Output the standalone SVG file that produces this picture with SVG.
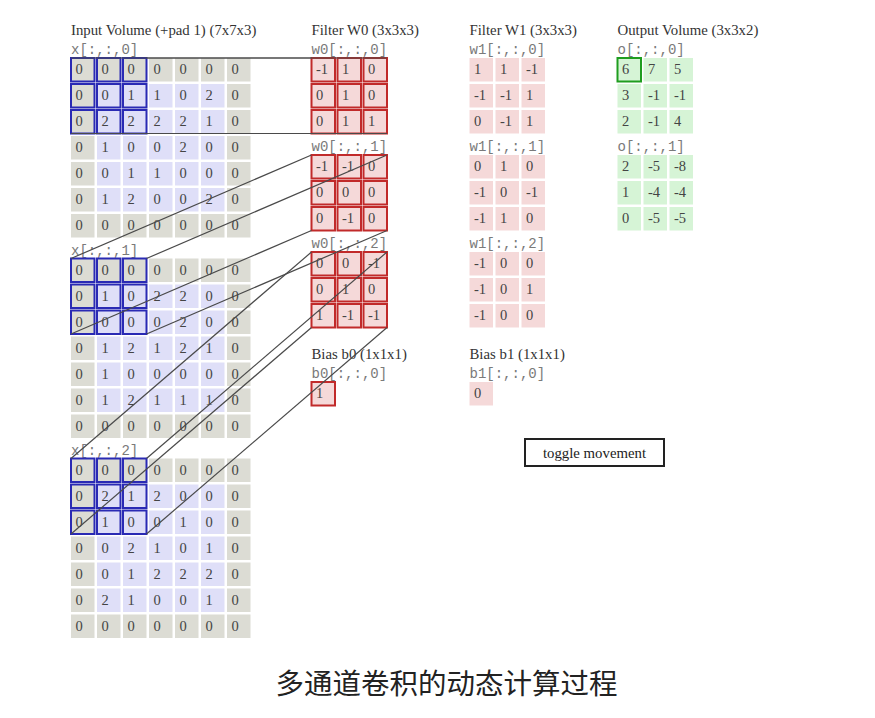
<svg xmlns="http://www.w3.org/2000/svg" width="875" height="718" viewBox="0 0 875 718">
<style>
.bg{fill:#ffffff}
.p{fill:#dcdcd4}
.v{fill:#dfdff8}
.f{fill:#f5d9d9}
.o{fill:#d6f4d6}
.t{font-family:"Liberation Serif",serif;font-size:14.5px;fill:#444}
.h{font-family:"Liberation Serif",serif;font-size:14.8px;fill:#333}
.m{font-family:"Liberation Mono",monospace;font-size:14px;fill:#7a7a7a}
.wb{fill:none;stroke:#2a2ab4;stroke-width:2}
.rb{fill:none;stroke:#c12a2a;stroke-width:2}
.gb{fill:none;stroke:#1f9d1f;stroke-width:2}
.ln{stroke:#4a4a4a;stroke-width:1.2;fill:none}
.cap{font-family:"Noto Sans CJK SC","Noto Sans",sans-serif;font-size:28.5px;fill:#222}
</style>
<rect class="bg" x="0" y="0" width="875" height="718"/>

<g id="input-volume">
<text class="h" x="71" y="35">Input Volume (+pad 1) (7x7x3)</text>
<g id="x0" transform="translate(71,58)">
<text class="m" x="0" y="-4">x[:,:,0]</text>
<rect class="p" x="0" y="0" width="23.5" height="23.5"/><rect class="p" x="26" y="0" width="23.5" height="23.5"/><rect class="p" x="52" y="0" width="23.5" height="23.5"/><rect class="p" x="78" y="0" width="23.5" height="23.5"/><rect class="p" x="104" y="0" width="23.5" height="23.5"/><rect class="p" x="130" y="0" width="23.5" height="23.5"/><rect class="p" x="156" y="0" width="23.5" height="23.5"/>
<rect class="p" x="0" y="26" width="23.5" height="23.5"/><rect class="v" x="26" y="26" width="23.5" height="23.5"/><rect class="v" x="52" y="26" width="23.5" height="23.5"/><rect class="v" x="78" y="26" width="23.5" height="23.5"/><rect class="v" x="104" y="26" width="23.5" height="23.5"/><rect class="v" x="130" y="26" width="23.5" height="23.5"/><rect class="p" x="156" y="26" width="23.5" height="23.5"/>
<rect class="p" x="0" y="52" width="23.5" height="23.5"/><rect class="v" x="26" y="52" width="23.5" height="23.5"/><rect class="v" x="52" y="52" width="23.5" height="23.5"/><rect class="v" x="78" y="52" width="23.5" height="23.5"/><rect class="v" x="104" y="52" width="23.5" height="23.5"/><rect class="v" x="130" y="52" width="23.5" height="23.5"/><rect class="p" x="156" y="52" width="23.5" height="23.5"/>
<rect class="p" x="0" y="78" width="23.5" height="23.5"/><rect class="v" x="26" y="78" width="23.5" height="23.5"/><rect class="v" x="52" y="78" width="23.5" height="23.5"/><rect class="v" x="78" y="78" width="23.5" height="23.5"/><rect class="v" x="104" y="78" width="23.5" height="23.5"/><rect class="v" x="130" y="78" width="23.5" height="23.5"/><rect class="p" x="156" y="78" width="23.5" height="23.5"/>
<rect class="p" x="0" y="104" width="23.5" height="23.5"/><rect class="v" x="26" y="104" width="23.5" height="23.5"/><rect class="v" x="52" y="104" width="23.5" height="23.5"/><rect class="v" x="78" y="104" width="23.5" height="23.5"/><rect class="v" x="104" y="104" width="23.5" height="23.5"/><rect class="v" x="130" y="104" width="23.5" height="23.5"/><rect class="p" x="156" y="104" width="23.5" height="23.5"/>
<rect class="p" x="0" y="130" width="23.5" height="23.5"/><rect class="v" x="26" y="130" width="23.5" height="23.5"/><rect class="v" x="52" y="130" width="23.5" height="23.5"/><rect class="v" x="78" y="130" width="23.5" height="23.5"/><rect class="v" x="104" y="130" width="23.5" height="23.5"/><rect class="v" x="130" y="130" width="23.5" height="23.5"/><rect class="p" x="156" y="130" width="23.5" height="23.5"/>
<rect class="p" x="0" y="156" width="23.5" height="23.5"/><rect class="p" x="26" y="156" width="23.5" height="23.5"/><rect class="p" x="52" y="156" width="23.5" height="23.5"/><rect class="p" x="78" y="156" width="23.5" height="23.5"/><rect class="p" x="104" y="156" width="23.5" height="23.5"/><rect class="p" x="130" y="156" width="23.5" height="23.5"/><rect class="p" x="156" y="156" width="23.5" height="23.5"/>
<text class="t" x="4.5" y="16">0</text><text class="t" x="30.5" y="16">0</text><text class="t" x="56.5" y="16">0</text><text class="t" x="82.5" y="16">0</text><text class="t" x="108.5" y="16">0</text><text class="t" x="134.5" y="16">0</text><text class="t" x="160.5" y="16">0</text>
<text class="t" x="4.5" y="42">0</text><text class="t" x="30.5" y="42">0</text><text class="t" x="56.5" y="42">1</text><text class="t" x="82.5" y="42">1</text><text class="t" x="108.5" y="42">0</text><text class="t" x="134.5" y="42">2</text><text class="t" x="160.5" y="42">0</text>
<text class="t" x="4.5" y="68">0</text><text class="t" x="30.5" y="68">2</text><text class="t" x="56.5" y="68">2</text><text class="t" x="82.5" y="68">2</text><text class="t" x="108.5" y="68">2</text><text class="t" x="134.5" y="68">1</text><text class="t" x="160.5" y="68">0</text>
<text class="t" x="4.5" y="94">0</text><text class="t" x="30.5" y="94">1</text><text class="t" x="56.5" y="94">0</text><text class="t" x="82.5" y="94">0</text><text class="t" x="108.5" y="94">2</text><text class="t" x="134.5" y="94">0</text><text class="t" x="160.5" y="94">0</text>
<text class="t" x="4.5" y="120">0</text><text class="t" x="30.5" y="120">0</text><text class="t" x="56.5" y="120">1</text><text class="t" x="82.5" y="120">1</text><text class="t" x="108.5" y="120">0</text><text class="t" x="134.5" y="120">0</text><text class="t" x="160.5" y="120">0</text>
<text class="t" x="4.5" y="146">0</text><text class="t" x="30.5" y="146">1</text><text class="t" x="56.5" y="146">2</text><text class="t" x="82.5" y="146">0</text><text class="t" x="108.5" y="146">0</text><text class="t" x="134.5" y="146">2</text><text class="t" x="160.5" y="146">0</text>
<text class="t" x="4.5" y="172">0</text><text class="t" x="30.5" y="172">0</text><text class="t" x="56.5" y="172">0</text><text class="t" x="82.5" y="172">0</text><text class="t" x="108.5" y="172">0</text><text class="t" x="134.5" y="172">0</text><text class="t" x="160.5" y="172">0</text>
<rect class="wb" x="0" y="0" width="23.5" height="23.5"/><rect class="wb" x="26" y="0" width="23.5" height="23.5"/><rect class="wb" x="52" y="0" width="23.5" height="23.5"/>
<rect class="wb" x="0" y="26" width="23.5" height="23.5"/><rect class="wb" x="26" y="26" width="23.5" height="23.5"/><rect class="wb" x="52" y="26" width="23.5" height="23.5"/>
<rect class="wb" x="0" y="52" width="23.5" height="23.5"/><rect class="wb" x="26" y="52" width="23.5" height="23.5"/><rect class="wb" x="52" y="52" width="23.5" height="23.5"/>
</g>
<g id="x1" transform="translate(71,258.5)">
<text class="m" x="0" y="-4">x[:,:,1]</text>
<rect class="p" x="0" y="0" width="23.5" height="23.5"/><rect class="p" x="26" y="0" width="23.5" height="23.5"/><rect class="p" x="52" y="0" width="23.5" height="23.5"/><rect class="p" x="78" y="0" width="23.5" height="23.5"/><rect class="p" x="104" y="0" width="23.5" height="23.5"/><rect class="p" x="130" y="0" width="23.5" height="23.5"/><rect class="p" x="156" y="0" width="23.5" height="23.5"/>
<rect class="p" x="0" y="26" width="23.5" height="23.5"/><rect class="v" x="26" y="26" width="23.5" height="23.5"/><rect class="v" x="52" y="26" width="23.5" height="23.5"/><rect class="v" x="78" y="26" width="23.5" height="23.5"/><rect class="v" x="104" y="26" width="23.5" height="23.5"/><rect class="v" x="130" y="26" width="23.5" height="23.5"/><rect class="p" x="156" y="26" width="23.5" height="23.5"/>
<rect class="p" x="0" y="52" width="23.5" height="23.5"/><rect class="v" x="26" y="52" width="23.5" height="23.5"/><rect class="v" x="52" y="52" width="23.5" height="23.5"/><rect class="v" x="78" y="52" width="23.5" height="23.5"/><rect class="v" x="104" y="52" width="23.5" height="23.5"/><rect class="v" x="130" y="52" width="23.5" height="23.5"/><rect class="p" x="156" y="52" width="23.5" height="23.5"/>
<rect class="p" x="0" y="78" width="23.5" height="23.5"/><rect class="v" x="26" y="78" width="23.5" height="23.5"/><rect class="v" x="52" y="78" width="23.5" height="23.5"/><rect class="v" x="78" y="78" width="23.5" height="23.5"/><rect class="v" x="104" y="78" width="23.5" height="23.5"/><rect class="v" x="130" y="78" width="23.5" height="23.5"/><rect class="p" x="156" y="78" width="23.5" height="23.5"/>
<rect class="p" x="0" y="104" width="23.5" height="23.5"/><rect class="v" x="26" y="104" width="23.5" height="23.5"/><rect class="v" x="52" y="104" width="23.5" height="23.5"/><rect class="v" x="78" y="104" width="23.5" height="23.5"/><rect class="v" x="104" y="104" width="23.5" height="23.5"/><rect class="v" x="130" y="104" width="23.5" height="23.5"/><rect class="p" x="156" y="104" width="23.5" height="23.5"/>
<rect class="p" x="0" y="130" width="23.5" height="23.5"/><rect class="v" x="26" y="130" width="23.5" height="23.5"/><rect class="v" x="52" y="130" width="23.5" height="23.5"/><rect class="v" x="78" y="130" width="23.5" height="23.5"/><rect class="v" x="104" y="130" width="23.5" height="23.5"/><rect class="v" x="130" y="130" width="23.5" height="23.5"/><rect class="p" x="156" y="130" width="23.5" height="23.5"/>
<rect class="p" x="0" y="156" width="23.5" height="23.5"/><rect class="p" x="26" y="156" width="23.5" height="23.5"/><rect class="p" x="52" y="156" width="23.5" height="23.5"/><rect class="p" x="78" y="156" width="23.5" height="23.5"/><rect class="p" x="104" y="156" width="23.5" height="23.5"/><rect class="p" x="130" y="156" width="23.5" height="23.5"/><rect class="p" x="156" y="156" width="23.5" height="23.5"/>
<text class="t" x="4.5" y="16">0</text><text class="t" x="30.5" y="16">0</text><text class="t" x="56.5" y="16">0</text><text class="t" x="82.5" y="16">0</text><text class="t" x="108.5" y="16">0</text><text class="t" x="134.5" y="16">0</text><text class="t" x="160.5" y="16">0</text>
<text class="t" x="4.5" y="42">0</text><text class="t" x="30.5" y="42">1</text><text class="t" x="56.5" y="42">0</text><text class="t" x="82.5" y="42">2</text><text class="t" x="108.5" y="42">2</text><text class="t" x="134.5" y="42">0</text><text class="t" x="160.5" y="42">0</text>
<text class="t" x="4.5" y="68">0</text><text class="t" x="30.5" y="68">0</text><text class="t" x="56.5" y="68">0</text><text class="t" x="82.5" y="68">0</text><text class="t" x="108.5" y="68">2</text><text class="t" x="134.5" y="68">0</text><text class="t" x="160.5" y="68">0</text>
<text class="t" x="4.5" y="94">0</text><text class="t" x="30.5" y="94">1</text><text class="t" x="56.5" y="94">2</text><text class="t" x="82.5" y="94">1</text><text class="t" x="108.5" y="94">2</text><text class="t" x="134.5" y="94">1</text><text class="t" x="160.5" y="94">0</text>
<text class="t" x="4.5" y="120">0</text><text class="t" x="30.5" y="120">1</text><text class="t" x="56.5" y="120">0</text><text class="t" x="82.5" y="120">0</text><text class="t" x="108.5" y="120">0</text><text class="t" x="134.5" y="120">0</text><text class="t" x="160.5" y="120">0</text>
<text class="t" x="4.5" y="146">0</text><text class="t" x="30.5" y="146">1</text><text class="t" x="56.5" y="146">2</text><text class="t" x="82.5" y="146">1</text><text class="t" x="108.5" y="146">1</text><text class="t" x="134.5" y="146">1</text><text class="t" x="160.5" y="146">0</text>
<text class="t" x="4.5" y="172">0</text><text class="t" x="30.5" y="172">0</text><text class="t" x="56.5" y="172">0</text><text class="t" x="82.5" y="172">0</text><text class="t" x="108.5" y="172">0</text><text class="t" x="134.5" y="172">0</text><text class="t" x="160.5" y="172">0</text>
<rect class="wb" x="0" y="0" width="23.5" height="23.5"/><rect class="wb" x="26" y="0" width="23.5" height="23.5"/><rect class="wb" x="52" y="0" width="23.5" height="23.5"/>
<rect class="wb" x="0" y="26" width="23.5" height="23.5"/><rect class="wb" x="26" y="26" width="23.5" height="23.5"/><rect class="wb" x="52" y="26" width="23.5" height="23.5"/>
<rect class="wb" x="0" y="52" width="23.5" height="23.5"/><rect class="wb" x="26" y="52" width="23.5" height="23.5"/><rect class="wb" x="52" y="52" width="23.5" height="23.5"/>
</g>
<g id="x2" transform="translate(71,458.5)">
<text class="m" x="0" y="-4">x[:,:,2]</text>
<rect class="p" x="0" y="0" width="23.5" height="23.5"/><rect class="p" x="26" y="0" width="23.5" height="23.5"/><rect class="p" x="52" y="0" width="23.5" height="23.5"/><rect class="p" x="78" y="0" width="23.5" height="23.5"/><rect class="p" x="104" y="0" width="23.5" height="23.5"/><rect class="p" x="130" y="0" width="23.5" height="23.5"/><rect class="p" x="156" y="0" width="23.5" height="23.5"/>
<rect class="p" x="0" y="26" width="23.5" height="23.5"/><rect class="v" x="26" y="26" width="23.5" height="23.5"/><rect class="v" x="52" y="26" width="23.5" height="23.5"/><rect class="v" x="78" y="26" width="23.5" height="23.5"/><rect class="v" x="104" y="26" width="23.5" height="23.5"/><rect class="v" x="130" y="26" width="23.5" height="23.5"/><rect class="p" x="156" y="26" width="23.5" height="23.5"/>
<rect class="p" x="0" y="52" width="23.5" height="23.5"/><rect class="v" x="26" y="52" width="23.5" height="23.5"/><rect class="v" x="52" y="52" width="23.5" height="23.5"/><rect class="v" x="78" y="52" width="23.5" height="23.5"/><rect class="v" x="104" y="52" width="23.5" height="23.5"/><rect class="v" x="130" y="52" width="23.5" height="23.5"/><rect class="p" x="156" y="52" width="23.5" height="23.5"/>
<rect class="p" x="0" y="78" width="23.5" height="23.5"/><rect class="v" x="26" y="78" width="23.5" height="23.5"/><rect class="v" x="52" y="78" width="23.5" height="23.5"/><rect class="v" x="78" y="78" width="23.5" height="23.5"/><rect class="v" x="104" y="78" width="23.5" height="23.5"/><rect class="v" x="130" y="78" width="23.5" height="23.5"/><rect class="p" x="156" y="78" width="23.5" height="23.5"/>
<rect class="p" x="0" y="104" width="23.5" height="23.5"/><rect class="v" x="26" y="104" width="23.5" height="23.5"/><rect class="v" x="52" y="104" width="23.5" height="23.5"/><rect class="v" x="78" y="104" width="23.5" height="23.5"/><rect class="v" x="104" y="104" width="23.5" height="23.5"/><rect class="v" x="130" y="104" width="23.5" height="23.5"/><rect class="p" x="156" y="104" width="23.5" height="23.5"/>
<rect class="p" x="0" y="130" width="23.5" height="23.5"/><rect class="v" x="26" y="130" width="23.5" height="23.5"/><rect class="v" x="52" y="130" width="23.5" height="23.5"/><rect class="v" x="78" y="130" width="23.5" height="23.5"/><rect class="v" x="104" y="130" width="23.5" height="23.5"/><rect class="v" x="130" y="130" width="23.5" height="23.5"/><rect class="p" x="156" y="130" width="23.5" height="23.5"/>
<rect class="p" x="0" y="156" width="23.5" height="23.5"/><rect class="p" x="26" y="156" width="23.5" height="23.5"/><rect class="p" x="52" y="156" width="23.5" height="23.5"/><rect class="p" x="78" y="156" width="23.5" height="23.5"/><rect class="p" x="104" y="156" width="23.5" height="23.5"/><rect class="p" x="130" y="156" width="23.5" height="23.5"/><rect class="p" x="156" y="156" width="23.5" height="23.5"/>
<text class="t" x="4.5" y="16">0</text><text class="t" x="30.5" y="16">0</text><text class="t" x="56.5" y="16">0</text><text class="t" x="82.5" y="16">0</text><text class="t" x="108.5" y="16">0</text><text class="t" x="134.5" y="16">0</text><text class="t" x="160.5" y="16">0</text>
<text class="t" x="4.5" y="42">0</text><text class="t" x="30.5" y="42">2</text><text class="t" x="56.5" y="42">1</text><text class="t" x="82.5" y="42">2</text><text class="t" x="108.5" y="42">0</text><text class="t" x="134.5" y="42">0</text><text class="t" x="160.5" y="42">0</text>
<text class="t" x="4.5" y="68">0</text><text class="t" x="30.5" y="68">1</text><text class="t" x="56.5" y="68">0</text><text class="t" x="82.5" y="68">0</text><text class="t" x="108.5" y="68">1</text><text class="t" x="134.5" y="68">0</text><text class="t" x="160.5" y="68">0</text>
<text class="t" x="4.5" y="94">0</text><text class="t" x="30.5" y="94">0</text><text class="t" x="56.5" y="94">2</text><text class="t" x="82.5" y="94">1</text><text class="t" x="108.5" y="94">0</text><text class="t" x="134.5" y="94">1</text><text class="t" x="160.5" y="94">0</text>
<text class="t" x="4.5" y="120">0</text><text class="t" x="30.5" y="120">0</text><text class="t" x="56.5" y="120">1</text><text class="t" x="82.5" y="120">2</text><text class="t" x="108.5" y="120">2</text><text class="t" x="134.5" y="120">2</text><text class="t" x="160.5" y="120">0</text>
<text class="t" x="4.5" y="146">0</text><text class="t" x="30.5" y="146">2</text><text class="t" x="56.5" y="146">1</text><text class="t" x="82.5" y="146">0</text><text class="t" x="108.5" y="146">0</text><text class="t" x="134.5" y="146">1</text><text class="t" x="160.5" y="146">0</text>
<text class="t" x="4.5" y="172">0</text><text class="t" x="30.5" y="172">0</text><text class="t" x="56.5" y="172">0</text><text class="t" x="82.5" y="172">0</text><text class="t" x="108.5" y="172">0</text><text class="t" x="134.5" y="172">0</text><text class="t" x="160.5" y="172">0</text>
<rect class="wb" x="0" y="0" width="23.5" height="23.5"/><rect class="wb" x="26" y="0" width="23.5" height="23.5"/><rect class="wb" x="52" y="0" width="23.5" height="23.5"/>
<rect class="wb" x="0" y="26" width="23.5" height="23.5"/><rect class="wb" x="26" y="26" width="23.5" height="23.5"/><rect class="wb" x="52" y="26" width="23.5" height="23.5"/>
<rect class="wb" x="0" y="52" width="23.5" height="23.5"/><rect class="wb" x="26" y="52" width="23.5" height="23.5"/><rect class="wb" x="52" y="52" width="23.5" height="23.5"/>
</g>
</g>

<g id="filter-w0" transform="translate(311.5,58)">
<text class="h" x="0" y="-23">Filter W0 (3x3x3)</text>
<text class="m" x="0" y="-4">w0[:,:,0]</text>
<text class="m" x="0" y="93">w0[:,:,1]</text>
<text class="m" x="0" y="190">w0[:,:,2]</text>
<rect class="f" x="0" y="0" width="23.5" height="23.5"/><rect class="f" x="26" y="0" width="23.5" height="23.5"/><rect class="f" x="52" y="0" width="23.5" height="23.5"/>
<rect class="f" x="0" y="26" width="23.5" height="23.5"/><rect class="f" x="26" y="26" width="23.5" height="23.5"/><rect class="f" x="52" y="26" width="23.5" height="23.5"/>
<rect class="f" x="0" y="52" width="23.5" height="23.5"/><rect class="f" x="26" y="52" width="23.5" height="23.5"/><rect class="f" x="52" y="52" width="23.5" height="23.5"/>
<rect class="f" x="0" y="97" width="23.5" height="23.5"/><rect class="f" x="26" y="97" width="23.5" height="23.5"/><rect class="f" x="52" y="97" width="23.5" height="23.5"/>
<rect class="f" x="0" y="123" width="23.5" height="23.5"/><rect class="f" x="26" y="123" width="23.5" height="23.5"/><rect class="f" x="52" y="123" width="23.5" height="23.5"/>
<rect class="f" x="0" y="149" width="23.5" height="23.5"/><rect class="f" x="26" y="149" width="23.5" height="23.5"/><rect class="f" x="52" y="149" width="23.5" height="23.5"/>
<rect class="f" x="0" y="194" width="23.5" height="23.5"/><rect class="f" x="26" y="194" width="23.5" height="23.5"/><rect class="f" x="52" y="194" width="23.5" height="23.5"/>
<rect class="f" x="0" y="220" width="23.5" height="23.5"/><rect class="f" x="26" y="220" width="23.5" height="23.5"/><rect class="f" x="52" y="220" width="23.5" height="23.5"/>
<rect class="f" x="0" y="246" width="23.5" height="23.5"/><rect class="f" x="26" y="246" width="23.5" height="23.5"/><rect class="f" x="52" y="246" width="23.5" height="23.5"/>
<rect class="rb" x="0" y="0" width="23.5" height="23.5"/><rect class="rb" x="26" y="0" width="23.5" height="23.5"/><rect class="rb" x="52" y="0" width="23.5" height="23.5"/>
<rect class="rb" x="0" y="26" width="23.5" height="23.5"/><rect class="rb" x="26" y="26" width="23.5" height="23.5"/><rect class="rb" x="52" y="26" width="23.5" height="23.5"/>
<rect class="rb" x="0" y="52" width="23.5" height="23.5"/><rect class="rb" x="26" y="52" width="23.5" height="23.5"/><rect class="rb" x="52" y="52" width="23.5" height="23.5"/>
<rect class="rb" x="0" y="97" width="23.5" height="23.5"/><rect class="rb" x="26" y="97" width="23.5" height="23.5"/><rect class="rb" x="52" y="97" width="23.5" height="23.5"/>
<rect class="rb" x="0" y="123" width="23.5" height="23.5"/><rect class="rb" x="26" y="123" width="23.5" height="23.5"/><rect class="rb" x="52" y="123" width="23.5" height="23.5"/>
<rect class="rb" x="0" y="149" width="23.5" height="23.5"/><rect class="rb" x="26" y="149" width="23.5" height="23.5"/><rect class="rb" x="52" y="149" width="23.5" height="23.5"/>
<rect class="rb" x="0" y="194" width="23.5" height="23.5"/><rect class="rb" x="26" y="194" width="23.5" height="23.5"/><rect class="rb" x="52" y="194" width="23.5" height="23.5"/>
<rect class="rb" x="0" y="220" width="23.5" height="23.5"/><rect class="rb" x="26" y="220" width="23.5" height="23.5"/><rect class="rb" x="52" y="220" width="23.5" height="23.5"/>
<rect class="rb" x="0" y="246" width="23.5" height="23.5"/><rect class="rb" x="26" y="246" width="23.5" height="23.5"/><rect class="rb" x="52" y="246" width="23.5" height="23.5"/>
<text class="t" x="4.5" y="16">-1</text><text class="t" x="30.5" y="16">1</text><text class="t" x="56.5" y="16">0</text>
<text class="t" x="4.5" y="42">0</text><text class="t" x="30.5" y="42">1</text><text class="t" x="56.5" y="42">0</text>
<text class="t" x="4.5" y="68">0</text><text class="t" x="30.5" y="68">1</text><text class="t" x="56.5" y="68">1</text>
<text class="t" x="4.5" y="113">-1</text><text class="t" x="30.5" y="113">-1</text><text class="t" x="56.5" y="113">0</text>
<text class="t" x="4.5" y="139">0</text><text class="t" x="30.5" y="139">0</text><text class="t" x="56.5" y="139">0</text>
<text class="t" x="4.5" y="165">0</text><text class="t" x="30.5" y="165">-1</text><text class="t" x="56.5" y="165">0</text>
<text class="t" x="4.5" y="210">0</text><text class="t" x="30.5" y="210">0</text><text class="t" x="56.5" y="210">-1</text>
<text class="t" x="4.5" y="236">0</text><text class="t" x="30.5" y="236">1</text><text class="t" x="56.5" y="236">0</text>
<text class="t" x="4.5" y="262">1</text><text class="t" x="30.5" y="262">-1</text><text class="t" x="56.5" y="262">-1</text>
</g>

<g id="filter-w1" transform="translate(469.5,58)">
<text class="h" x="0" y="-23">Filter W1 (3x3x3)</text>
<text class="m" x="0" y="-4">w1[:,:,0]</text>
<text class="m" x="0" y="93">w1[:,:,1]</text>
<text class="m" x="0" y="190">w1[:,:,2]</text>
<rect class="f" x="0" y="0" width="23.5" height="23.5"/><rect class="f" x="26" y="0" width="23.5" height="23.5"/><rect class="f" x="52" y="0" width="23.5" height="23.5"/>
<rect class="f" x="0" y="26" width="23.5" height="23.5"/><rect class="f" x="26" y="26" width="23.5" height="23.5"/><rect class="f" x="52" y="26" width="23.5" height="23.5"/>
<rect class="f" x="0" y="52" width="23.5" height="23.5"/><rect class="f" x="26" y="52" width="23.5" height="23.5"/><rect class="f" x="52" y="52" width="23.5" height="23.5"/>
<rect class="f" x="0" y="97" width="23.5" height="23.5"/><rect class="f" x="26" y="97" width="23.5" height="23.5"/><rect class="f" x="52" y="97" width="23.5" height="23.5"/>
<rect class="f" x="0" y="123" width="23.5" height="23.5"/><rect class="f" x="26" y="123" width="23.5" height="23.5"/><rect class="f" x="52" y="123" width="23.5" height="23.5"/>
<rect class="f" x="0" y="149" width="23.5" height="23.5"/><rect class="f" x="26" y="149" width="23.5" height="23.5"/><rect class="f" x="52" y="149" width="23.5" height="23.5"/>
<rect class="f" x="0" y="194" width="23.5" height="23.5"/><rect class="f" x="26" y="194" width="23.5" height="23.5"/><rect class="f" x="52" y="194" width="23.5" height="23.5"/>
<rect class="f" x="0" y="220" width="23.5" height="23.5"/><rect class="f" x="26" y="220" width="23.5" height="23.5"/><rect class="f" x="52" y="220" width="23.5" height="23.5"/>
<rect class="f" x="0" y="246" width="23.5" height="23.5"/><rect class="f" x="26" y="246" width="23.5" height="23.5"/><rect class="f" x="52" y="246" width="23.5" height="23.5"/>
<text class="t" x="4.5" y="16">1</text><text class="t" x="30.5" y="16">1</text><text class="t" x="56.5" y="16">-1</text>
<text class="t" x="4.5" y="42">-1</text><text class="t" x="30.5" y="42">-1</text><text class="t" x="56.5" y="42">1</text>
<text class="t" x="4.5" y="68">0</text><text class="t" x="30.5" y="68">-1</text><text class="t" x="56.5" y="68">1</text>
<text class="t" x="4.5" y="113">0</text><text class="t" x="30.5" y="113">1</text><text class="t" x="56.5" y="113">0</text>
<text class="t" x="4.5" y="139">-1</text><text class="t" x="30.5" y="139">0</text><text class="t" x="56.5" y="139">-1</text>
<text class="t" x="4.5" y="165">-1</text><text class="t" x="30.5" y="165">1</text><text class="t" x="56.5" y="165">0</text>
<text class="t" x="4.5" y="210">-1</text><text class="t" x="30.5" y="210">0</text><text class="t" x="56.5" y="210">0</text>
<text class="t" x="4.5" y="236">-1</text><text class="t" x="30.5" y="236">0</text><text class="t" x="56.5" y="236">1</text>
<text class="t" x="4.5" y="262">-1</text><text class="t" x="30.5" y="262">0</text><text class="t" x="56.5" y="262">0</text>
</g>

<g id="output-volume" transform="translate(617.5,58)">
<text class="h" x="0" y="-23">Output Volume (3x3x2)</text>
<text class="m" x="0" y="-4">o[:,:,0]</text>
<text class="m" x="0" y="93">o[:,:,1]</text>
<rect class="o" x="0" y="0" width="23.5" height="23.5"/><rect class="o" x="26" y="0" width="23.5" height="23.5"/><rect class="o" x="52" y="0" width="23.5" height="23.5"/>
<rect class="o" x="0" y="26" width="23.5" height="23.5"/><rect class="o" x="26" y="26" width="23.5" height="23.5"/><rect class="o" x="52" y="26" width="23.5" height="23.5"/>
<rect class="o" x="0" y="52" width="23.5" height="23.5"/><rect class="o" x="26" y="52" width="23.5" height="23.5"/><rect class="o" x="52" y="52" width="23.5" height="23.5"/>
<rect class="o" x="0" y="97" width="23.5" height="23.5"/><rect class="o" x="26" y="97" width="23.5" height="23.5"/><rect class="o" x="52" y="97" width="23.5" height="23.5"/>
<rect class="o" x="0" y="123" width="23.5" height="23.5"/><rect class="o" x="26" y="123" width="23.5" height="23.5"/><rect class="o" x="52" y="123" width="23.5" height="23.5"/>
<rect class="o" x="0" y="149" width="23.5" height="23.5"/><rect class="o" x="26" y="149" width="23.5" height="23.5"/><rect class="o" x="52" y="149" width="23.5" height="23.5"/>
<rect class="gb" x="0" y="0" width="23.5" height="23.5"/>
<text class="t" x="4.5" y="16">6</text><text class="t" x="30.5" y="16">7</text><text class="t" x="56.5" y="16">5</text>
<text class="t" x="4.5" y="42">3</text><text class="t" x="30.5" y="42">-1</text><text class="t" x="56.5" y="42">-1</text>
<text class="t" x="4.5" y="68">2</text><text class="t" x="30.5" y="68">-1</text><text class="t" x="56.5" y="68">4</text>
<text class="t" x="4.5" y="113">2</text><text class="t" x="30.5" y="113">-5</text><text class="t" x="56.5" y="113">-8</text>
<text class="t" x="4.5" y="139">1</text><text class="t" x="30.5" y="139">-4</text><text class="t" x="56.5" y="139">-4</text>
<text class="t" x="4.5" y="165">0</text><text class="t" x="30.5" y="165">-5</text><text class="t" x="56.5" y="165">-5</text>
</g>

<g id="bias-b0" transform="translate(311.5,382)">
<text class="h" x="0" y="-23">Bias b0 (1x1x1)</text>
<text class="m" x="0" y="-4">b0[:,:,0]</text>
<rect class="f" x="0" y="0" width="23.5" height="23.5"/>
<rect class="rb" x="0" y="0" width="23.5" height="23.5"/>
<text class="t" x="4.5" y="16">1</text>
</g>

<g id="bias-b1" transform="translate(469.5,382)">
<text class="h" x="0" y="-23">Bias b1 (1x1x1)</text>
<text class="m" x="0" y="-4">b1[:,:,0]</text>
<rect class="f" x="0" y="0" width="23.5" height="23.5"/>
<text class="t" x="4.5" y="16">0</text>
</g>

<g id="toggle-button">
<rect x="525" y="439" width="139" height="27" fill="#ffffff" stroke="#222" stroke-width="2"/>
<text class="h" x="594.5" y="457.5" text-anchor="middle" style="fill:#222">toggle movement</text>
</g>

<g id="connectors">
<line class="ln" x1="71" y1="58" x2="311.5" y2="58"/>
<line class="ln" x1="146.5" y1="58" x2="387" y2="58"/>
<line class="ln" x1="71" y1="133.5" x2="311.5" y2="133.5"/>
<line class="ln" x1="146.5" y1="133.5" x2="387" y2="133.5"/>
<line class="ln" x1="71" y1="258.5" x2="311.5" y2="155"/>
<line class="ln" x1="146.5" y1="258.5" x2="387" y2="155"/>
<line class="ln" x1="71" y1="334" x2="311.5" y2="230.5"/>
<line class="ln" x1="146.5" y1="334" x2="387" y2="230.5"/>
<line class="ln" x1="71" y1="458.5" x2="311.5" y2="252"/>
<line class="ln" x1="146.5" y1="458.5" x2="387" y2="252"/>
<line class="ln" x1="71" y1="534" x2="311.5" y2="327.5"/>
<line class="ln" x1="146.5" y1="534" x2="387" y2="327.5"/>
</g>

<text class="cap" x="446.5" y="694" text-anchor="middle">多通道卷积的动态计算过程</text>
</svg>
